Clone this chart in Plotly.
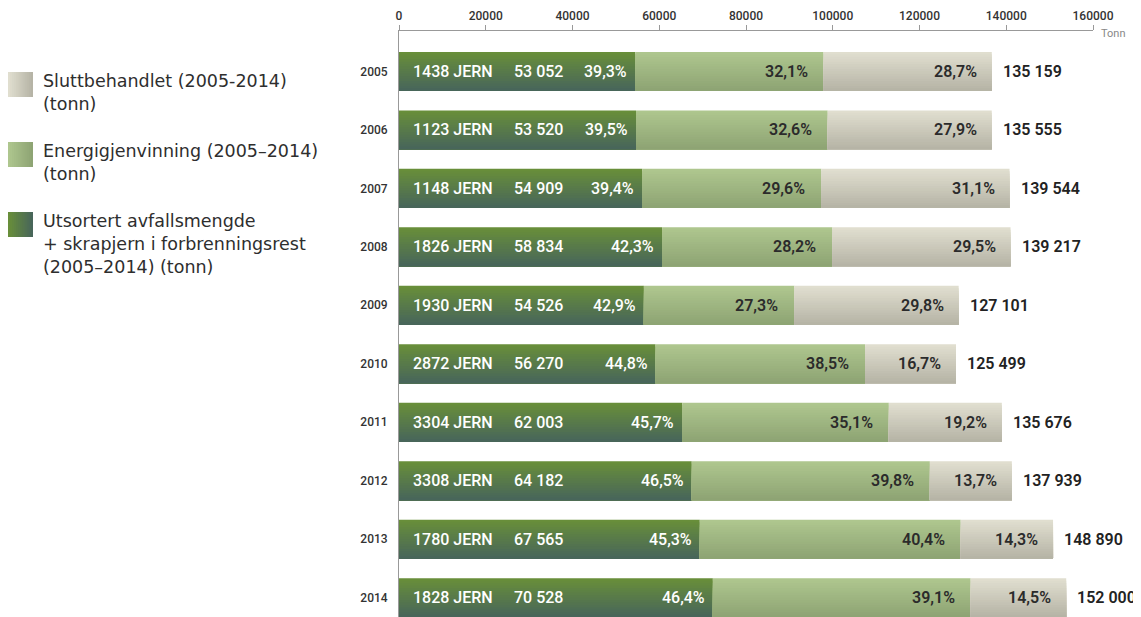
import plotly.graph_objects as go

years = ["2005", "2006", "2007", "2008", "2009", "2010", "2011", "2012", "2013", "2014"]
jern = [1438, 1123, 1148, 1826, 1930, 2872, 3304, 3308, 1780, 1828]
utsortert = [53052, 53520, 54909, 58834, 54526, 56270, 62003, 64182, 67565, 70528]
utsortert_pct = [39.3, 39.5, 39.4, 42.3, 42.9, 44.8, 45.7, 46.5, 45.3, 46.4]
energi_pct = [32.1, 32.6, 29.6, 28.2, 27.3, 38.5, 35.1, 39.8, 40.4, 39.1]
slutt_pct = [28.7, 27.9, 31.1, 29.5, 29.8, 16.7, 19.2, 13.7, 14.3, 14.5]
totals = [135159, 135555, 139544, 139217, 127101, 125499, 135676, 137939, 148890, 152000]

legend_labels = [
    "Sluttbehandlet (2005-2014)<br>(tonn)",
    "Energigjenvinning (2005–2014)<br>(tonn)",
    "Utsortert avfallsmengde<br>+ skrapjern i forbrenningsrest<br>(2005–2014) (tonn)",
]

FONT = "Roboto, 'Noto Sans', sans-serif"
LFONT = "'DejaVu Sans', 'Open Sans', sans-serif"

def fmt(v):
    return f"{v:,}".replace(",", " ")

def pct(v):
    return f"{v:.1f}%".replace(".", ",")

def lerp(c1, c2, t):
    return "rgb(%d,%d,%d)" % tuple(round(a + (b - a) * t) for a, b in zip(c1, c2))

dark_grad = ((104, 142, 58), (72, 102, 90))
green_grad = ((174, 198, 142), (142, 164, 116))
grey_grad = ((224, 222, 207), (182, 180, 166))

ypos = list(range(len(years)))
dark_len = [u + j for u, j in zip(utsortert, jern)]
energi_len = [p / 100 * t for p, t in zip(energi_pct, totals)]
slutt_len = [p / 100 * t for p, t in zip(slutt_pct, totals)]
energi_base = dark_len
slutt_base = [d + e for d, e in zip(dark_len, energi_len)]
bar_end = [b + s for b, s in zip(slutt_base, slutt_len)]

fig = go.Figure()
N = 16
W = 0.665
for seg_len, seg_base, grad in [
    (dark_len, [0] * len(years), dark_grad),
    (energi_len, energi_base, green_grad),
    (slutt_len, slutt_base, grey_grad),
]:
    for k in range(N):
        fig.add_trace(go.Bar(
            y=ypos, x=seg_len, base=seg_base, orientation="h",
            width=W - k * W / N, offset=-W / 2 + k * W / N,
            marker=dict(color=lerp(grad[0], grad[1], k / (N - 1)), line=dict(width=0)),
            showlegend=False, hoverinfo="skip",
        ))

wfont = dict(color="white", size=16, family=FONT, weight=500)
dfont = dict(color="#2b2b2b", size=16, family=FONT, weight=600)
ann = []
for i in range(len(years)):
    ann.append(dict(x=0, y=i, xref="x", yref="y", text=f"{jern[i]} JERN", xanchor="left",
                    xshift=12, showarrow=False, font=wfont))
    ann.append(dict(x=0, y=i, xref="x", yref="y", text=fmt(utsortert[i]), xanchor="left",
                    xshift=113, showarrow=False, font=wfont))
    ann.append(dict(x=dark_len[i], y=i, xref="x", yref="y", text=pct(utsortert_pct[i]), xanchor="right",
                    xshift=-6, showarrow=False, font=wfont))
    ann.append(dict(x=slutt_base[i], y=i, xref="x", yref="y", text=pct(energi_pct[i]), xanchor="right",
                    xshift=-14, showarrow=False, font=dfont))
    ann.append(dict(x=bar_end[i], y=i, xref="x", yref="y", text=pct(slutt_pct[i]), xanchor="right",
                    xshift=-13, showarrow=False, font=dfont))
    ann.append(dict(x=bar_end[i], y=i, xref="x", yref="y", text=fmt(totals[i]), xanchor="left",
                    xshift=9, showarrow=False, font=dict(color="#222", size=16, family=FONT, weight=600)))

ann.append(dict(x=1.0, y=1.0, xref="paper", yref="paper", text="Tonn", xanchor="left", yanchor="middle",
                xshift=6, yshift=-2, showarrow=False, font=dict(color="#888", size=11, family=FONT)))

# page body has an 8px margin: figure coordinates = page coordinates - 8
OFF = 8
FW, FH = 1141 - OFF, 617 - OFF
L = 399 - OFF
T = 31 - OFF
R = FW - (1093 - OFF)
PW = FW - R - L
PH = FH - T

def px_x(x):
    return (x - OFF - L) / PW

def px_y(y):
    return (FH - (y - OFF)) / PH

# legend (left side)
legend_boxes = [(72, grey_grad), (142, green_grad), (212, dark_grad)]
shapes = []
for (top, grad), label in zip(legend_boxes, legend_labels):
    x0, size = 8, 25
    M = 12
    for k in range(M):
        shapes.append(dict(type="rect", xref="paper", yref="paper",
                           x0=px_x(x0 + k * size / M), x1=px_x(x0 + size),
                           y0=px_y(top + size), y1=px_y(top),
                           fillcolor=lerp(grad[0], grad[1], k / (M - 1)), line=dict(width=0)))
    ann.append(dict(x=px_x(41), y=px_y(top - 3), xref="paper", yref="paper", text=label,
                    xanchor="left", yanchor="top", align="left", showarrow=False,
                    font=dict(color="#2e2e2e", size=17.5, family=LFONT)))

fig.update_layout(
    width=FW, height=FH,
    margin=dict(l=L, r=R, t=T, b=0, autoexpand=False),
    barmode="overlay",
    plot_bgcolor="white", paper_bgcolor="white",
    xaxis=dict(range=[0, 160000], side="top", tickvals=[0, 20000, 40000, 60000, 80000, 100000, 120000, 140000, 160000],
               ticktext=["0", "20000", "40000", "60000", "80000", "100000", "120000", "140000", "160000"],
               showline=True, linecolor="#999", linewidth=1, ticks="outside", ticklen=5, tickcolor="#999",
               showgrid=False, zeroline=False, automargin=False,
               tickfont=dict(size=12, color="#333", family=FONT, weight=500)),
    yaxis=dict(range=[9.33, -0.69], tickvals=ypos, ticktext=years, showline=True, linecolor="#999",
               linewidth=1, ticks="", showgrid=False, zeroline=False, ticklabelstandoff=8, automargin=False,
               tickfont=dict(size=12, color="#333", family=FONT, weight=500)),
    annotations=ann, shapes=shapes,
)

fig.write_html("out.html")
